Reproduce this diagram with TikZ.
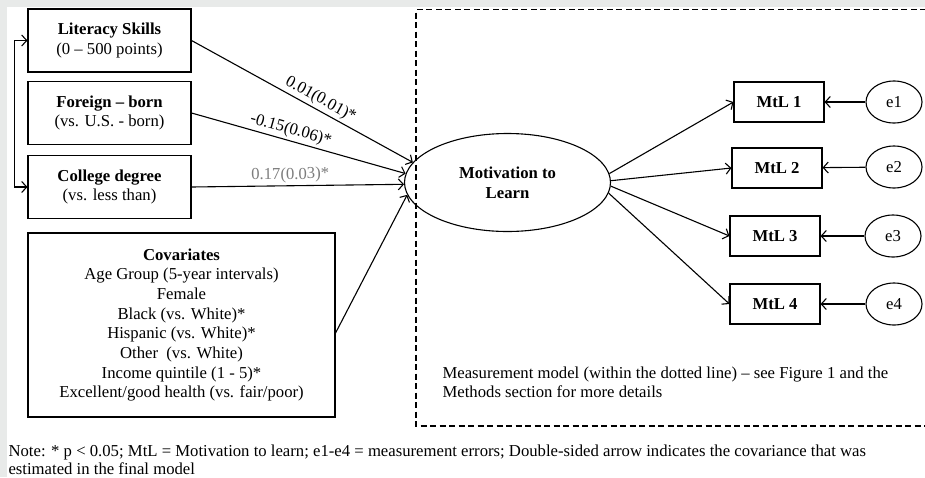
\documentclass[tikz,border=0pt]{standalone}
\usepackage{fontspec}
\setmainfont{Liberation Serif}
\usetikzlibrary{arrows.meta,shapes.geometric}
\definecolor{bggray}{RGB}{232,234,233}
\definecolor{labgray}{RGB}{125,125,125}

\begin{document}
\begin{tikzpicture}[x=1pt, y=-1pt, line width=1.1pt,
  font=\fontsize{16.7}{19.7}\selectfont,
  var node/.style={rectangle,draw,align=center,inner sep=0pt},
  lat node/.style={ellipse,draw,align=center,inner sep=0pt},
  err node/.style={ellipse,draw,inner sep=0pt,minimum width=56pt,minimum height=42pt},
  mtl node/.style={var node,minimum width=90pt,minimum height=40pt,font=\fontsize{16.7}{19.7}\selectfont\bfseries},
  arr/.style={-{Straight Barb[length=5pt,width=11pt]}},
  coef/.style={above,sloped,inner sep=2.5pt}]
\useasboundingbox (0,0) rectangle (925,477);
\fill[bggray] (0,0) rectangle (925,477);
\fill[white] (7,7) rectangle (925,477);

% measurement model frame
\draw[dash pattern=on 6pt off 3.5pt] (926,9.7) -- (416,9.7) -- (416,426) -- (926,426);

% predictors
\node[var node,minimum width=163pt,minimum height=63pt] (lit) at (109.5,40.5) {\textbf{Literacy Skills}\\(0 -- 500 points)};
\node[var node,minimum width=163pt,minimum height=63pt] (fb) at (109.5,113) {\textbf{Foreign -- born}\\(vs. U.S. - born)};
\node[var node,minimum width=163pt,minimum height=63pt] (col) at (109.5,187) {\textbf{College degree}\\(vs. less than)};
\node[var node,minimum width=307pt,minimum height=184pt] (cov) at (181.5,325) {\textbf{Covariates}\\Age Group (5-year intervals)\\Female\\Black (vs. White)*\\Hispanic (vs. White)*\\Other\ \ (vs. White)\\Income quintile (1 - 5)*\\Excellent/good health (vs. fair/poor)};

% latent factor
\node[lat node,minimum width=206pt,minimum height=98pt,font=\fontsize{16.7}{19.7}\selectfont\bfseries] (mot) at (507.5,182.5) {Motivation to\\Learn};

% indicators and errors
\node[mtl node] (m1) at (779,102) {MtL 1};
\node[mtl node] (m2) at (777,168) {MtL 2};
\node[mtl node] (m3) at (775,236) {MtL 3};
\node[mtl node] (m4) at (775,304) {MtL 4};
\node[err node] (e1) at (894,102) {e1};
\node[err node] (e2) at (894,167) {e2};
\node[err node] (e3) at (893,236) {e3};
\node[err node] (e4) at (894,304) {e4};

% structural paths
\draw (lit.east) edge[arr] node[coef,pos=0.56] (c1) {0.01(0.01)*} (mot.168);
\draw (fb.east) edge[arr] node[coef,pos=0.45] (c2) {-0.15(0.06)*} (mot.175);
\draw (col.east) edge[arr] node[coef,pos=0.465,text=labgray] (c3) {0.17(0.03)*} (mot.181);
\draw ([yshift=-8pt]cov.east) edge[arr] (mot.187);
\draw[{Straight Barb[length=5pt,width=11pt]}-{Straight Barb[length=5pt,width=11pt]}] (lit.west) -- ++(-13,0) |- (col.west);

% loadings
\draw (mot.5) edge[arr] (m1.west);
\draw (mot.1.5) edge[arr] (m2.west);
\draw (mot.-2.5) edge[arr] (m3.west);
\draw (mot.-6.5) edge[arr] (m4.west);
\draw (e1) edge[arr] (m1);
\draw (e2) edge[arr] (m2);
\draw (e3) edge[arr] (m3);
\draw (e4) edge[arr] (m4);

% texts
\node[anchor=north west,align=left,inner sep=0pt] (mm) at (442,366) {Measurement model (within the dotted line) -- see Figure 1 and the\\Methods section for more details};
\node[anchor=north west,align=left,inner sep=0pt,font=\fontsize{16.7}{18}\selectfont] (note) at (8,444) {Note: * p < 0.05; MtL = Motivation to learn; e1-e4 = measurement errors; Double-sided arrow indicates the covariance that was\\estimated in the final model};
\end{tikzpicture}
\end{document}
